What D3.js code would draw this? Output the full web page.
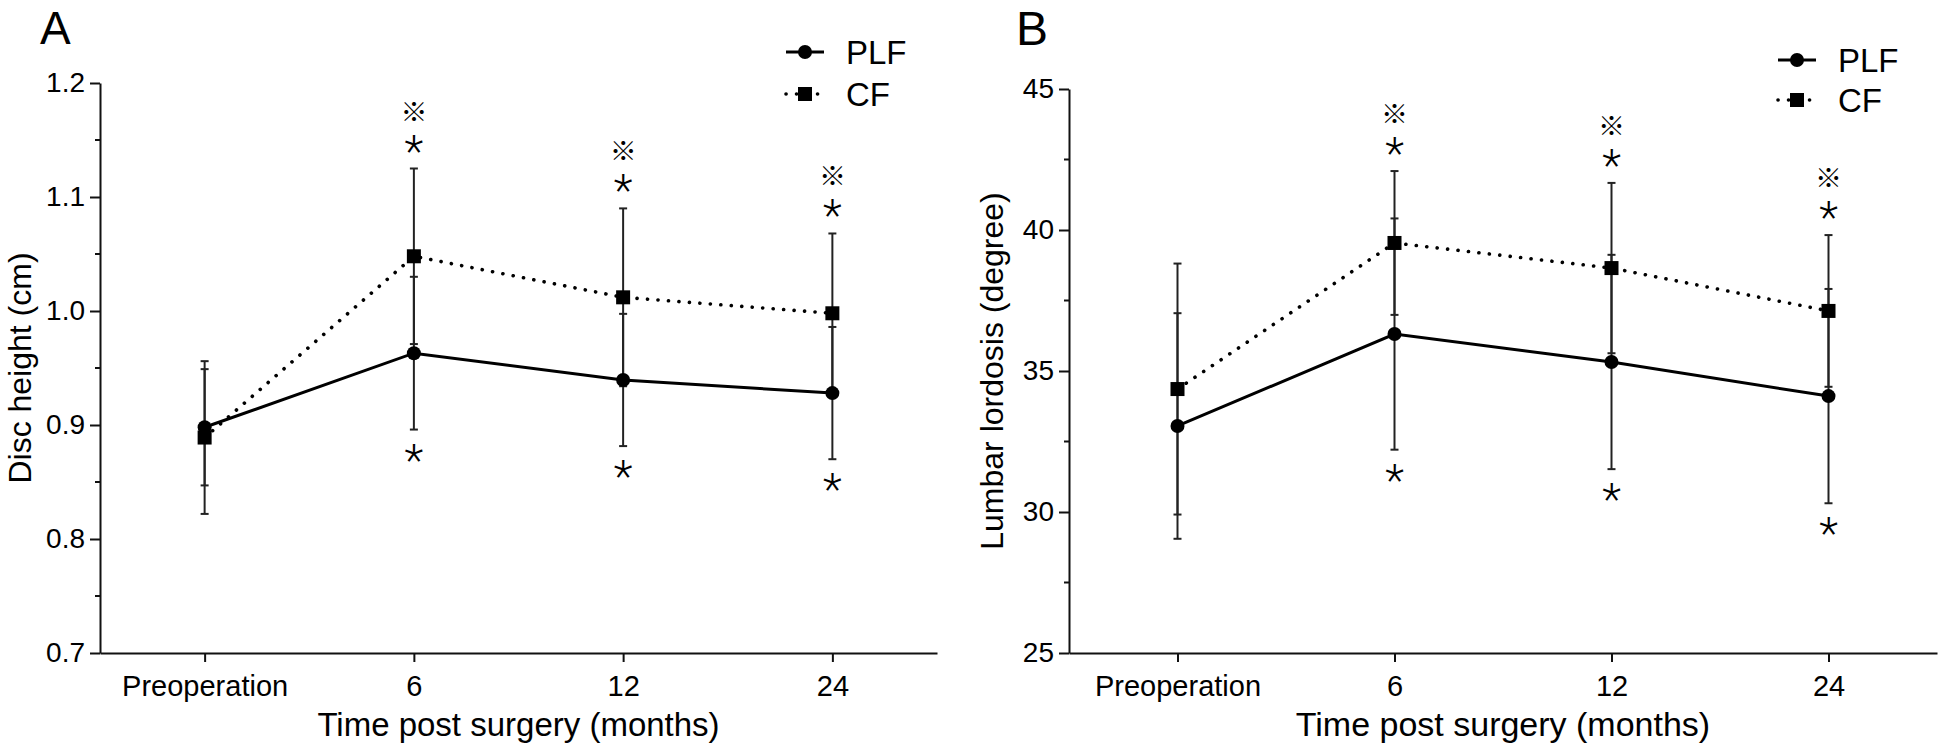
<!DOCTYPE html>
<html>
<head>
<meta charset="utf-8">
<script src="https://cdn.jsdelivr.net/npm/d3@7"></script>
<style>
  html, body { margin: 0; padding: 0; background: #fff; }
  svg { display: block; }
  text { font-family: "Liberation Sans", Arial, sans-serif; fill: #000; }
</style>
</head>
<body>
<svg id="chart" width="1946" height="750"></svg>
<script>
// ---------- data ----------
const categories = ["Preoperation", "6", "12", "24"];
const seriesNames = ["PLF", "CF"];

// Panel A: disc height (cm)
const discPLF   = [0.898, 0.963, 0.9395, 0.928];
const discPLFsd = [0.051, 0.067, 0.058, 0.058];
const discCF    = [0.889, 1.048, 1.012, 0.998];
const discCFsd  = [0.067, 0.077, 0.078, 0.070];
const discTicks = [0.7, 0.8, 0.9, 1.0, 1.1, 1.2];
const discMinor = [0.75, 0.85, 0.95, 1.05, 1.15];

// Panel B: lumbar lordosis (degree)
const lordPLF   = [33.05, 36.31, 35.32, 34.11];
const lordPLFsd = [4.0, 4.1, 3.8, 3.8];
const lordCF    = [34.36, 39.54, 38.65, 37.13];
const lordCFsd  = [4.45, 2.55, 3.02, 2.69];
const lordTicks = [25, 30, 35, 40, 45];
const lordMinor = [27.5, 32.5, 37.5, 42.5];

// significance marks (upper: above CF bar, lower: below PLF bar)
const sigUpperStar = ["", "*", "*", "*"];
const sigUpperRef  = ["", "※", "※", "※"];
const sigLowerStar = ["", "*", "*", "*"];

// ---------- drawing ----------
const svg = d3.select("#chart");

const panels = [
  { label: "A", lx: 40, ly: 44, lsize: 46,
    x0: 100, x1: 937, yTop: 83, yBot: 653,
    domain: [0.7, 1.2], ticks: discTicks, minor: discMinor, fmt: d3.format(".1f"),
    plf: discPLF, plfSd: discPLFsd, cf: discCF, cfSd: discCFsd,
    ytitle: "Disc height (cm)", ytx: 31, ytSize: 32, xtSize: 33,
    legX: 786, legY: [52, 94] },
  { label: "B", lx: 1016, ly: 45, lsize: 48,
    x0: 1069, x1: 1937, yTop: 89, yBot: 653,
    domain: [25, 45], ticks: lordTicks, minor: lordMinor, fmt: d3.format("d"),
    plf: lordPLF, plfSd: lordPLFsd, cf: lordCF, cfSd: lordCFsd,
    ytitle: "Lumbar lordosis (degree)", ytx: 1003, ytSize: 32, xtSize: 34,
    legX: 1778, legY: [60, 100] }
];

panels.forEach(p => {
  const g = svg.append("g");
  const x = d3.scalePoint().domain(categories).range([p.x0, p.x1]).padding(0.5);
  const y = d3.scaleLinear().domain(p.domain).range([p.yBot, p.yTop]);

  // panel letter
  g.append("text").attr("x", p.lx).attr("y", p.ly)
    .attr("font-size", p.lsize).text(p.label);

  // y axis
  const ya = g.append("g").attr("transform", `translate(${p.x0},0)`)
    .call(d3.axisLeft(y).tickValues(p.ticks).tickFormat(p.fmt).tickSize(10).tickSizeOuter(0).tickPadding(5));
  ya.selectAll("text").attr("font-size", 28).attr("font-family", "Liberation Sans, Arial, sans-serif").attr("fill", "#000");
  ya.select(".domain").attr("stroke", "#111").attr("stroke-width", 2);
  ya.selectAll(".tick line").attr("stroke", "#111").attr("stroke-width", 2);
  ya.append("g").selectAll("line").data(p.minor).join("line")
    .attr("x1", -5).attr("x2", 0)
    .attr("y1", d => y(d)).attr("y2", d => y(d))
    .attr("stroke", "#111").attr("stroke-width", 2);

  // x axis
  const xa = g.append("g").attr("transform", `translate(0,${p.yBot})`)
    .call(d3.axisBottom(x).tickSize(9).tickSizeOuter(0).tickPadding(13));
  xa.selectAll("text").attr("font-size", 29).attr("font-family", "Liberation Sans, Arial, sans-serif").attr("fill", "#000");
  xa.select(".domain").attr("stroke", "#111").attr("stroke-width", 2);
  xa.selectAll(".tick line").attr("stroke", "#111").attr("stroke-width", 2);

  // axis titles
  g.append("text")
    .attr("transform", `translate(${p.ytx},${(p.yTop + p.yBot) / 2}) rotate(-90)`)
    .attr("text-anchor", "middle").attr("font-size", p.ytSize).text(p.ytitle);
  g.append("text")
    .attr("x", (p.x0 + p.x1) / 2).attr("y", 736)
    .attr("text-anchor", "middle").attr("font-size", p.xtSize).text("Time post surgery (months)");

  // error bars
  const eb = (vals, sds) => categories.map((c, i) => ({ c, v: vals[i], sd: sds[i] }));
  [eb(p.plf, p.plfSd), eb(p.cf, p.cfSd)].forEach(arr => {
    const e = g.append("g").attr("stroke", "#222").attr("stroke-width", 2);
    e.selectAll("line.v").data(arr).join("line").attr("class", "v")
      .attr("x1", d => x(d.c)).attr("x2", d => x(d.c))
      .attr("y1", d => y(d.v + d.sd)).attr("y2", d => y(d.v - d.sd));
    e.selectAll("line.t").data(arr).join("line").attr("class", "t")
      .attr("x1", d => x(d.c) - 4).attr("x2", d => x(d.c) + 4)
      .attr("y1", d => y(d.v + d.sd)).attr("y2", d => y(d.v + d.sd));
    e.selectAll("line.b").data(arr).join("line").attr("class", "b")
      .attr("x1", d => x(d.c) - 4).attr("x2", d => x(d.c) + 4)
      .attr("y1", d => y(d.v - d.sd)).attr("y2", d => y(d.v - d.sd));
  });

  // lines
  const line = d3.line().x((d, i) => x(categories[i])).y(d => y(d));
  g.append("path").datum(p.cf).attr("d", line).attr("fill", "none")
    .attr("stroke", "#000").attr("stroke-width", 3.6)
    .attr("stroke-linecap", "round").attr("stroke-dasharray", "0.1 10.4");
  g.append("path").datum(p.plf).attr("d", line).attr("fill", "none")
    .attr("stroke", "#000").attr("stroke-width", 3);

  // markers
  g.selectAll("circle.m").data(p.plf).join("circle").attr("class", "m")
    .attr("cx", (d, i) => x(categories[i])).attr("cy", d => y(d)).attr("r", 7).attr("fill", "#000");
  g.selectAll("rect.m").data(p.cf).join("rect").attr("class", "m")
    .attr("x", (d, i) => x(categories[i]) - 7).attr("y", d => y(d) - 7)
    .attr("width", 14).attr("height", 14).attr("fill", "#000");

  // significance marks
  const starFont = "Roboto, 'Liberation Sans', sans-serif";
  categories.forEach((c, i) => {
    const top = y(p.cf[i] + p.cfSd[i]);
    const bot = y(p.plf[i] - p.plfSd[i]);
    if (sigUpperStar[i]) g.append("text").attr("x", x(c)).attr("y", top - 2)
      .attr("text-anchor", "middle").attr("font-size", 44).attr("font-weight", 300)
      .style("font-family", starFont).text(sigUpperStar[i]);
    if (sigUpperRef[i]) g.append("text").attr("x", x(c)).attr("y", top - 47)
      .attr("text-anchor", "middle").attr("font-size", 27)
      .style("font-family", "'Noto Sans CJK SC', sans-serif").text(sigUpperRef[i]);
    if (sigLowerStar[i]) g.append("text").attr("x", x(c)).attr("y", bot + 46)
      .attr("text-anchor", "middle").attr("font-size", 44).attr("font-weight", 300)
      .style("font-family", starFont).text(sigLowerStar[i]);
  });

  // legend
  const lg = g.append("g");
  const lx0 = p.legX, lx1 = p.legX + 38, lxc = p.legX + 19;
  lg.append("line").attr("x1", lx0).attr("x2", lx1).attr("y1", p.legY[0]).attr("y2", p.legY[0])
    .attr("stroke", "#000").attr("stroke-width", 3);
  lg.append("circle").attr("cx", lxc).attr("cy", p.legY[0]).attr("r", 7).attr("fill", "#000");
  lg.append("line").attr("x1", lx0).attr("x2", lx1).attr("y1", p.legY[1]).attr("y2", p.legY[1])
    .attr("stroke", "#000").attr("stroke-width", 3.6)
    .attr("stroke-linecap", "round").attr("stroke-dasharray", "0.1 10.4");
  lg.append("rect").attr("x", lxc - 7).attr("y", p.legY[1] - 7).attr("width", 14).attr("height", 14).attr("fill", "#000");
  seriesNames.forEach((s, i) => {
    lg.append("text").attr("x", lx1 + 22).attr("y", p.legY[i] + 12)
      .attr("font-size", 33).text(s);
  });
});
</script>
</body>
</html>
